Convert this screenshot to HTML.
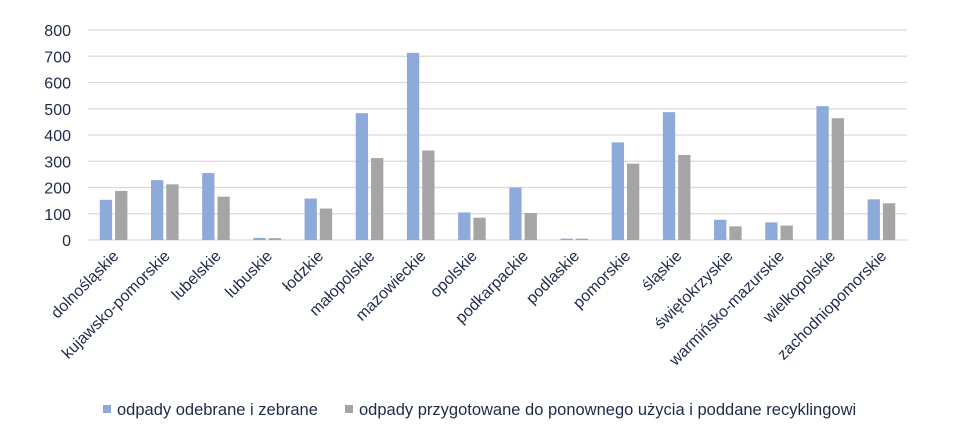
<!DOCTYPE html>
<html><head><meta charset="utf-8"><style>
body{margin:0;background:#fff;}
svg{display:block;font-family:"Liberation Sans",sans-serif;}
</style></head><body>
<svg id="chart" width="963" height="440"></svg>
<script>
const categories=["dolnośląskie","kujawsko-pomorskie","lubelskie","lubuskie","łodzkie","małopolskie","mazowieckie","opolskie","podkarpackie","podlaskie","pomorskie","śląskie","świętokrzyskie","warmińsko-mazurskie","wielkopolskie","zachodniopomorskie"];
const seriesA=[153,228,255,8,158,483,713,105,200,5,372,487,77,67,510,155];
const seriesB=[187,212,165,7,120,312,341,85,103,5,291,324,52,55,464,140];
const yTicks=[0,100,200,300,400,500,600,700,800];
const seriesNames=["odpady odebrane i zebrane","odpady przygotowane do ponownego użycia i poddane recyklingowi"];
const NS="http://www.w3.org/2000/svg";
const svg=document.getElementById('chart');
const x0=88,x1=907,y0=240,y1=30,yMax=800;
const band=(x1-x0)/categories.length;
const yScale=v=>y0-(v/yMax)*(y0-y1);
const xCenter=i=>x0+band*(i+0.5);
function mk(t,a){const e=document.createElementNS(NS,t);for(const k in a)e.setAttribute(k,a[k]);svg.appendChild(e);return e;}
yTicks.forEach(t=>{
  const l=mk('line',{x1:x0,x2:x1,y1:yScale(t),y2:yScale(t),stroke:'#d9d9d9','stroke-width':1.3});
  
  
  const tx=mk('text',{x:71,y:yScale(t)+6,'text-anchor':'end','font-size':16,fill:'#1f2a4a'});
  tx.textContent=t;
  
  
});
const bw=12.3,gap=3;
categories.forEach((c,i)=>{
  const cx=xCenter(i);
  const a=mk('rect',{x:cx-gap/2-bw,y:yScale(seriesA[i]),width:bw,height:y0-yScale(seriesA[i]),fill:'#8eaadb'});
  
  
  const b=mk('rect',{x:cx+gap/2,y:yScale(seriesB[i]),width:bw,height:y0-yScale(seriesB[i]),fill:'#a5a5a5'});
  
  
  const t=mk('text',{x:0,y:0,'text-anchor':'end','font-size':16,fill:'#1f2a4a',transform:`translate(${cx+6},${257}) rotate(-45)`});
  t.textContent=c;
  
  
});
const lg=[[103,'#8eaadb',117],[345,'#a5a5a5',359]];
lg.forEach((g,i)=>{
  const r=mk('rect',{x:g[0],y:405,width:8,height:8,fill:g[1]});
  
  
  const t=mk('text',{x:g[2],y:415,'font-size':16.5,fill:'#1f2a4a'});
  t.textContent=seriesNames[i];
  
  
});
</script>
</body></html>
